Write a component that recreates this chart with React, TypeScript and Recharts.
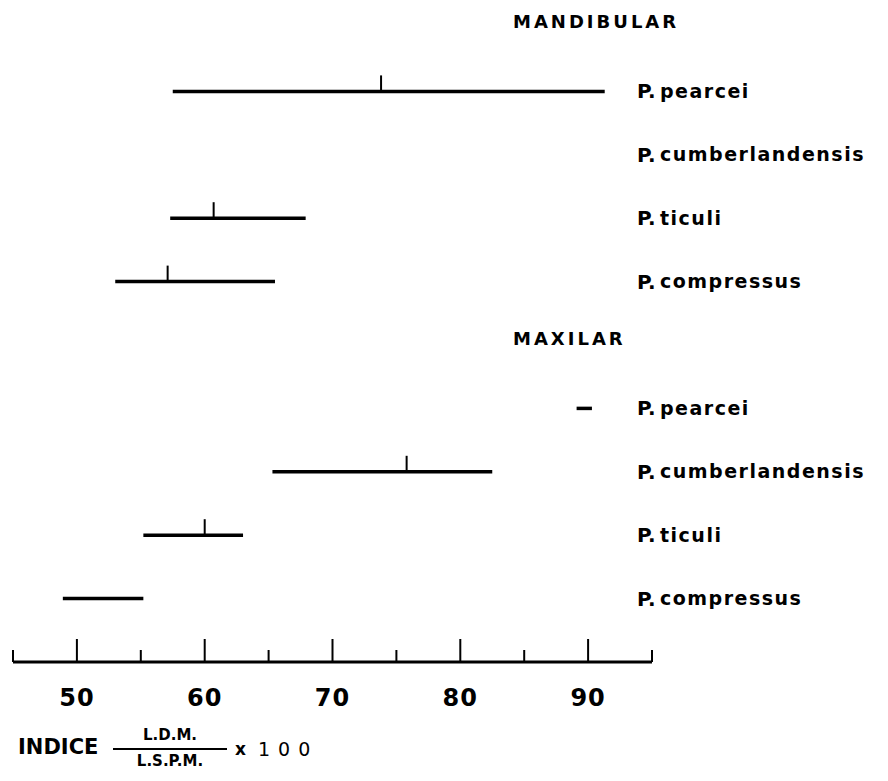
import React from 'react';
import { ScatterChart, Scatter, XAxis, YAxis, ErrorBar } from 'recharts';

// ---- data ----
const groups = ['MANDIBULAR', 'MAXILAR'];
const species = ['pearcei', 'cumberlandensis', 'ticuli', 'compressus'];
const mandLow: (number | null)[] = [57.5, null, 57.3, 53.0];
const mandHigh: (number | null)[] = [91.3, null, 67.9, 65.5];
const mandMean: (number | null)[] = [73.8, null, 60.7, 57.1];
const maxLow: (number | null)[] = [89.1, 65.3, 55.2, 48.9];
const maxHigh: (number | null)[] = [90.3, 82.5, 63.0, 55.2];
const maxMean: (number | null)[] = [null, 75.8, 60.0, null];
const xTicks = [45, 50, 55, 60, 65, 70, 75, 80, 85, 90, 95];
const xLabelTicks = [50, 60, 70, 80, 90];
const titleWord = 'INDICE';
const numerator = 'L.D.M.';
const denominator = 'L.S.P.M.';
const factor = '100';

const lows = [mandLow, maxLow];
const highs = [mandHigh, maxHigh];
const means = [mandMean, maxMean];

type Row = { row: number; header: boolean; label: string };
const rowLabels: Row[] = [];
const points: any[] = [];
groups.forEach((g, gi) => {
  rowLabels.push({ row: gi * 5 - 1, header: true, label: g });
  species.forEach((s, si) => {
    const row = gi * 5 + si;
    rowLabels.push({ row, header: false, label: s });
    const lo = lows[gi][si];
    const hi = highs[gi][si];
    const mn = means[gi][si];
    if (lo != null && hi != null) {
      const x = mn != null ? mn : (lo + hi) / 2;
      points.push({ x, y: row, err: [x - lo, hi - x], hasMean: mn != null });
    }
  });
});
const yTicks = rowLabels.map((r) => r.row);

const FONT = '"DejaVu Sans", sans-serif';

const MeanTick = (props: any) => {
  const { cx, cy, payload } = props;
  if (!payload || !payload.hasMean) return <g />;
  return <line x1={cx} x2={cx} y1={cy} y2={cy - 16} stroke="#000" strokeWidth={2} />;
};

const XTick = (props: any) => {
  const { x, y, payload } = props;
  const v = payload.value;
  const major = xLabelTicks.includes(v);
  const len = major ? 23 : 12;
  return (
    <g>
      <line x1={x} x2={x} y1={y} y2={y - len} stroke="#000" strokeWidth={2} />
      {major && (
        <text x={x} y={y + 36} dy="0.35em" textAnchor="middle" fontFamily={FONT} fontWeight="bold" fontSize={24} letterSpacing={1} fill="#000">
          {v}
        </text>
      )}
    </g>
  );
};

const RowTick = (props: any) => {
  const { x, y, payload } = props;
  const r = rowLabels.find((d) => d.row === payload.value);
  if (!r) return <g />;
  if (r.header) {
    return (
      <text x={x - 139} y={y - 6} dy="0.35em" fontFamily={FONT} fontWeight="bold" fontSize={18} letterSpacing={3} fill="#000">
        {r.label}
      </text>
    );
  }
  return (
    <g>
      <text x={x - 15} y={y} dy="0.35em" fontFamily={FONT} fontWeight="bold" fontSize={20} fill="#000">
        P.
      </text>
      <text x={x + 8} y={y} dy="0.35em" fontFamily={FONT} fontWeight="bold" fontSize={19} letterSpacing={1.5} fill="#000">
        {r.label}
      </text>
    </g>
  );
};

const TitleLabel = (props: any) => {
  const vb = props.viewBox || {};
  const x0 = (vb.x || 0) + 5;
  const y0 = (vb.y || 0) - 3;
  return (
    <g>
      <text x={x0} y={y0 + 88} dy="0.35em" fontFamily={FONT} fontWeight="bold" fontSize={21} fill="#000">
        {titleWord}
      </text>
      <line x1={x0 + 95} x2={x0 + 209} y1={y0 + 90} y2={y0 + 90} stroke="#000" strokeWidth={2} />
      <text x={x0 + 152} y={y0 + 76} dy="0.35em" textAnchor="middle" fontFamily={FONT} fontWeight="bold" fontSize={15} fill="#000">
        {numerator}
      </text>
      <text x={x0 + 152} y={y0 + 102} dy="0.35em" textAnchor="middle" fontFamily={FONT} fontWeight="bold" fontSize={15} fill="#000">
        {denominator}
      </text>
      <text x={x0 + 217} y={y0 + 90} dy="0.35em" fontFamily={FONT} fontWeight="bold" fontSize={17} fill="#000">
        x
      </text>
      <text x={x0 + 240} y={y0 + 90} dy="0.35em" fontFamily={FONT} fontSize={19} letterSpacing={8} fill="#000">
        {factor}
      </text>
    </g>
  );
};

export default function App() {
  return (
    <div style={{ width: 872, height: 765, background: '#fff' }}>
      <ScatterChart width={872} height={765} margin={{ top: 20, right: 0, bottom: 0, left: 5 }}>
        <XAxis
          type="number"
          dataKey="x"
          domain={[45, 95]}
          ticks={xTicks}
          interval={0}
          tickSize={0}
          tickMargin={0}
          tickLine={false}
          axisLine={{ stroke: '#000', strokeWidth: 3 }}
          tick={<XTick />}
          height={111}
          allowDataOverflow
          label={{ content: <TitleLabel /> }}
        />
        <YAxis
          type="number"
          dataKey="y"
          orientation="right"
          domain={[-1, 9]}
          reversed
          ticks={yTicks}
          interval={0}
          width={228}
          tickSize={0}
          tickMargin={0}
          tickLine={false}
          axisLine={false}
          tick={<RowTick />}
          allowDataOverflow
        />
        <Scatter data={points} shape={<MeanTick />} isAnimationActive={false}>
          <ErrorBar dataKey="err" direction="x" width={0} strokeWidth={3.5} stroke="#000" isAnimationActive={false} />
        </Scatter>
      </ScatterChart>
    </div>
  );
}
